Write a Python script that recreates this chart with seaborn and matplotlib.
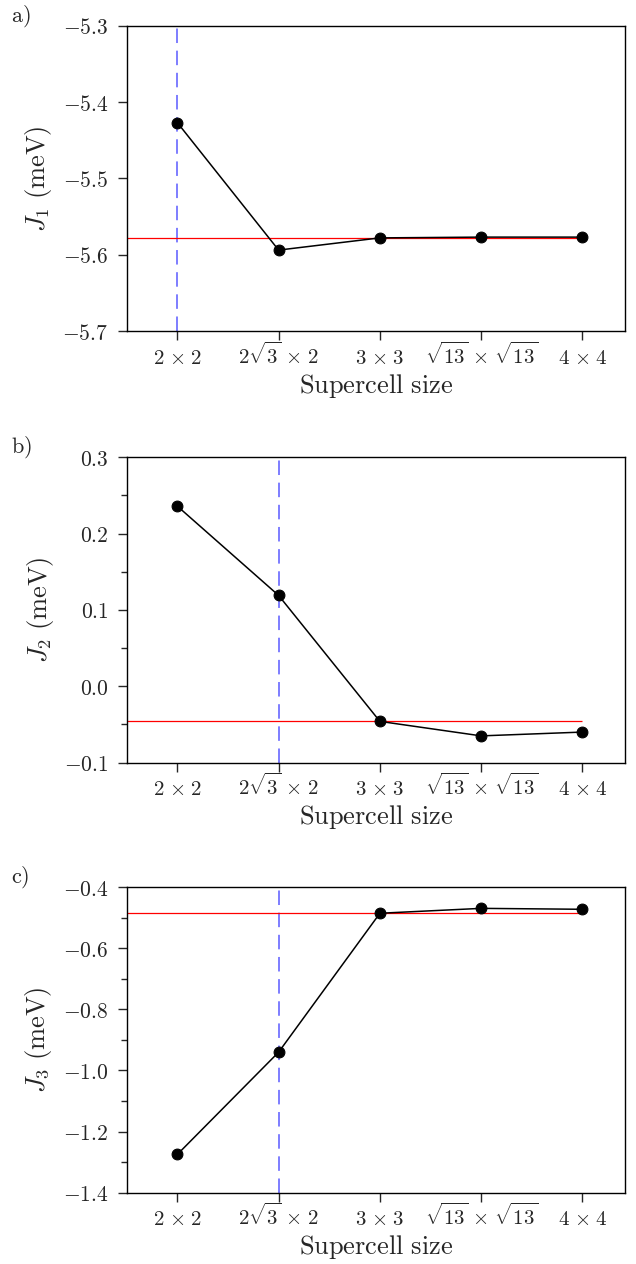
import numpy as np
import pandas as pd
import seaborn as sns
from matplotlib import pyplot as plt
from matplotlib.ticker import FuncFormatter, MultipleLocator, AutoMinorLocator

# data
cells = [r'$2\;\!\times\;\!2$', r'$2\sqrt{3}\;\!\times\;\!2$', r'$3\;\!\times\;\!3$',
         r'$\sqrt{13}\;\!\times\;\!\sqrt{13}$', r'$4\;\!\times\;\!4$']
J1 = [-5.427, -5.594, -5.578, -5.577, -5.577]
J2 = [0.236, 0.119, -0.046, -0.065, -0.060]
J3 = [-1.275, -0.940, -0.485, -0.469, -0.472]
ref_values = [-5.578, -0.046, -0.485]
converged = [0, 1, 1]
panel_names = ['a)', 'b)', 'c)']
ylabels = [r'$J_1\ \mathrm{(meV)}$', r'$J_2\ \mathrm{(meV)}$', r'$J_3\ \mathrm{(meV)}$']
ylims = [(-5.7, -5.3), (-0.1, 0.3), (-1.4, -0.4)]
ysteps = [0.1, 0.1, 0.2]

sns.set_style('ticks')
plt.rcParams['mathtext.fontset'] = 'cm'
plt.rcParams['font.family'] = ['DejaVu Serif']

fig = plt.figure(figsize=(6.36, 12.64), dpi=100)

W, H = 636, 1264
tops = [25.7, 457.3, 887.3]
ax_h = 305.3
left, right = 126.7, 625.0

for i, J in enumerate([J1, J2, J3]):
    ax = fig.add_axes([left / W, 1 - (tops[i] + ax_h) / H, (right - left) / W, ax_h / H])
    df = pd.DataFrame({'idx': np.arange(len(cells)), 'J': J})

    ax.axvline(converged[i], color='#5a5aff', lw=1.1, ls=(0, (9.5, 5)), zorder=1)
    ax.hlines(ref_values[i], -0.5, len(cells) - 1, color='red', lw=0.9, zorder=2)
    sns.lineplot(data=df, x='idx', y='J', ax=ax, color='black', lw=1.1,
                 marker='o', markersize=7.8, markeredgecolor='black', zorder=3)

    ax.set_xlim(-0.5, 4.42)
    ax.set_ylim(*ylims[i])
    ax.set_xticks(np.arange(len(cells)))
    ax.set_xticklabels(cells)
    ax.yaxis.set_major_locator(MultipleLocator(ysteps[i]))
    ax.yaxis.set_major_formatter(FuncFormatter(lambda v, p: r'$%.1f$' % v))
    if i > 0:
        ax.yaxis.set_minor_locator(AutoMinorLocator(2))
    ax.tick_params(which='major', direction='out', length=6.2, width=1.0, labelsize=15)
    ax.tick_params(which='minor', direction='out', length=4.5, width=1.0)
    ax.tick_params(axis='y', labelsize=15.5, pad=7)
    ax.tick_params(axis='x', pad=17.3)
    for lab in ax.get_xticklabels():
        lab.set_verticalalignment('baseline')
    for s in ax.spines.values():
        s.set_linewidth(1.0)
        s.set_color('black')

    ax.set_xlabel(r'$\mathrm{Supercell\ size}$', fontsize=19, labelpad=3)
    ax.set_ylabel(ylabels[i], fontsize=19, labelpad=6)

    fig.text(11 / W, 1 - (tops[i] - 10) / H, r'$\mathrm{%s}$' % panel_names[i],
             fontsize=16, ha='left', va='center')

fig.savefig('out.png', dpi=100)
